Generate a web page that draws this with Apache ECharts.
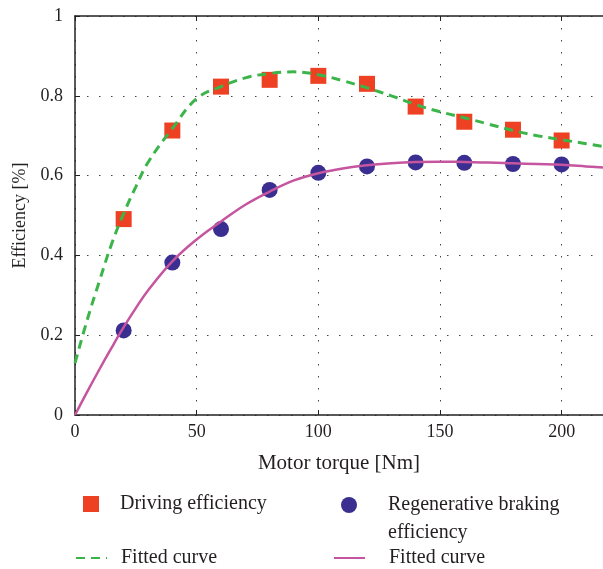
<!DOCTYPE html>
<html>
<head>
<meta charset="utf-8">
<script src="https://cdn.jsdelivr.net/npm/echarts@6/dist/echarts.min.js"></script>
<style>
  html, body { margin: 0; padding: 0; background: #fff; }
  #chart-container { width: 603px; height: 569px; }
</style>
</head>
<body>
<div id="chart-container"></div>
<script>
var dom = document.getElementById('chart-container');
var myChart = echarts.init(dom);

// measured points
var torque = [20, 40, 60, 80, 100, 120, 140, 160, 180, 200];
var driving = [0.491, 0.713, 0.823, 0.840, 0.850, 0.830, 0.773, 0.735, 0.715, 0.688];
var regen = [0.212, 0.382, 0.466, 0.564, 0.607, 0.623, 0.633, 0.632, 0.629, 0.628];

// fitted curves
var fitX = [0, 5, 10, 15, 20, 25, 30, 40, 50, 60, 70, 80, 90, 100, 110, 120, 130, 140, 150, 160, 170, 180, 190, 200, 210, 217];
var fitDriving = [0.13, 0.238, 0.335, 0.428, 0.505, 0.572, 0.633, 0.718, 0.793, 0.823, 0.845, 0.856, 0.860, 0.853, 0.838, 0.820, 0.800, 0.778, 0.760, 0.745, 0.729, 0.713, 0.700, 0.690, 0.680, 0.673];
var fitRegen = [0, 0.058, 0.114, 0.168, 0.220, 0.268, 0.312, 0.385, 0.440, 0.485, 0.527, 0.560, 0.588, 0.606, 0.618, 0.626, 0.631, 0.634, 0.635, 0.634, 0.633, 0.631, 0.629, 0.627, 0.623, 0.620];

var font = 'Liberation Serif';
var txt = '#231f20';

function pairs(xs, ys) {
  return xs.map(function (x, i) { return [x, ys[i]]; });
}

function legendBox(name, left, top, w, h, padLeft, isLine) {
  var lg = {
    data: [name],
    left: left,
    top: top,
    padding: 0,
    itemWidth: w,
    itemHeight: h,
    selectedMode: false,
    textStyle: { fontFamily: font, fontSize: 20, color: txt, lineHeight: 28, padding: [0, 0, 0, padLeft] }
  };
  // line legends: only the stroke, no marker
  if (isLine) lg.itemStyle = { opacity: 0 };
  return lg;
}

var legendB = legendBox('Regenerative braking\nefficiency', 341, 463, 16, 16, 26);
// blank first line so "Regenerative braking" sits level with the dot
legendB.formatter = function (name) { return ' \n' + name; };

var option = {
  animation: false,
  textStyle: { fontFamily: font },
  grid: { left: 75, top: 16, right: 0, bottom: 154, containLabel: false },
  legend: [
    legendBox('Driving efficiency', 83, 490, 16, 16, 16),
    legendB,
    legendBox('Fitted curve', 75, 544, 31, 14, 9, true),
    legendBox('Fitted curve ', 333, 544, 31, 14, 19, true)
  ],
  xAxis: [
    {
      type: 'value',
      min: 0,
      max: 217,
      interval: 50,
      name: 'Motor torque [Nm]',
      nameLocation: 'middle',
      nameGap: 38,
      nameTextStyle: { fontFamily: font, fontSize: 21, color: txt },
      axisLine: { lineStyle: { color: '#222', width: 1.5 } },
      axisTick: { inside: true, length: 5, lineStyle: { color: '#222' } },
      axisLabel: { fontFamily: font, fontSize: 18, color: txt, margin: 8, showMaxLabel: false },
      splitLine: { show: true, lineStyle: { color: '#444', width: 1, type: [1.5, 10.5] } }
    },
    {
      type: 'value',
      position: 'top',
      min: 0,
      max: 217,
      interval: 50,
      axisLine: { show: true, lineStyle: { color: '#222', width: 1.5 } },
      axisTick: { show: true, inside: true, length: 5, lineStyle: { color: '#222' } },
      axisLabel: { show: false },
      splitLine: { show: false }
    }
  ],
  yAxis: {
    type: 'value',
    min: 0,
    max: 1,
    interval: 0.2,
    name: 'Efficiency [%]',
    nameLocation: 'middle',
    nameGap: 43,
    nameTextStyle: { fontFamily: font, fontSize: 18, color: txt },
    axisLine: { show: true, lineStyle: { color: '#222', width: 1.5 } },
    axisTick: { show: true, inside: true, length: 5, lineStyle: { color: '#222' } },
    axisLabel: { fontFamily: font, fontSize: 18, color: txt, margin: 12 },
    splitLine: { show: true, lineStyle: { color: '#444', width: 1, type: [1.5, 10.5] } }
  },
  series: [
    {
      name: 'Driving efficiency',
      type: 'scatter',
      symbol: 'rect',
      symbolSize: 16,
      itemStyle: { color: '#ee4123', opacity: 1 },
      data: pairs(torque, driving),
      z: 2
    },
    {
      name: 'Regenerative braking\nefficiency',
      type: 'scatter',
      symbol: 'circle',
      symbolSize: 16,
      itemStyle: { color: '#3a2f91', opacity: 1 },
      data: pairs(torque, regen),
      z: 2
    },
    {
      name: 'Fitted curve',
      type: 'line',
      smooth: 0.4,
      symbol: 'none',
      lineStyle: { color: '#3bb54a', width: 3, type: [9, 6] },
      itemStyle: { color: '#3bb54a' },
      data: pairs(fitX, fitDriving),
      z: 3
    },
    {
      name: 'Fitted curve ',
      type: 'line',
      smooth: 0.4,
      symbol: 'none',
      lineStyle: { color: '#c6559f', width: 2.5 },
      itemStyle: { color: '#c6559f' },
      data: pairs(fitX, fitRegen),
      z: 3
    }
  ]
};

myChart.setOption(option);
</script>
</body>
</html>
